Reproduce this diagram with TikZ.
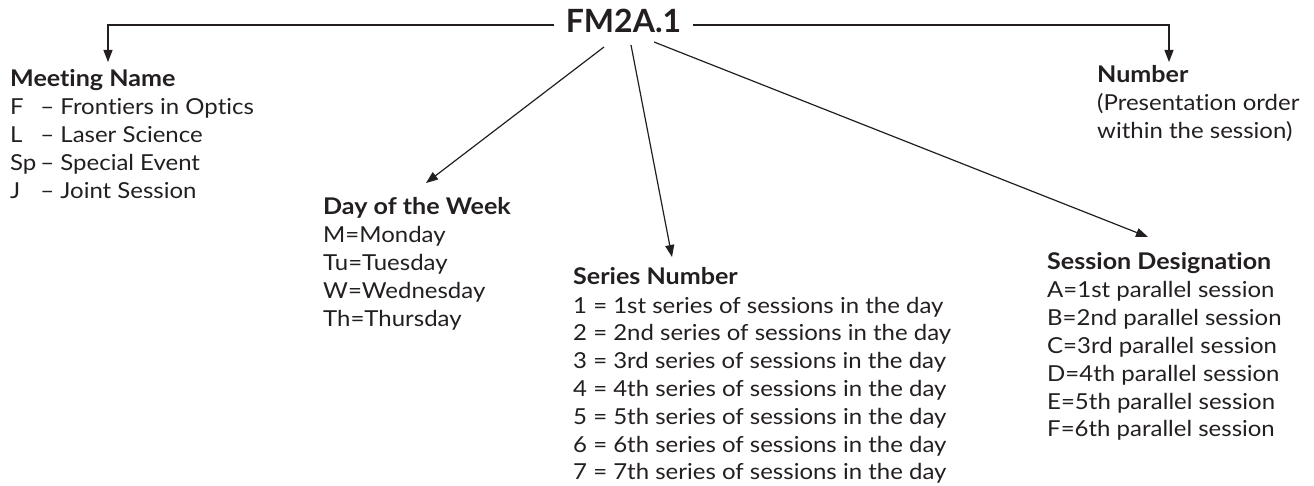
\documentclass[tikz,border=0pt]{standalone}
\usepackage{fontspec}
\setmainfont{Lato}[FakeStretch=1.09,Ligatures=NoCommon]
\newfontfamily\fmfont{Lato}
\usetikzlibrary{arrows.meta,calc}
\definecolor{ink}{HTML}{231F20}
\newcommand{\blk}[1]{\begin{tabular}[t]{@{}l@{}}#1\end{tabular}}
\begin{document}
\begin{tikzpicture}[x=1pt,y=-1pt,
  every node/.style={inner sep=0pt,text=ink},
  hd/.style={anchor=base west,font=\fontsize{23}{28}\selectfont\bfseries},
  bd/.style={anchor=base west,font=\fontsize{22}{27.8}\selectfont},
  arr/.style={draw=ink,line width=1.2pt,-{Triangle[length=12pt,width=9pt]}},
  ln/.style={draw=ink,line width=1.2pt}]
\useasboundingbox (0,0) rectangle (1314,486);
\node[anchor=base,font=\fmfont\fontsize{32}{32}\selectfont\bfseries,inner xsep=12pt] (fm) at (623.5,33) {FM2A.1};
% headers
\node[hd] (meet) at (10,87) {Meeting Name};
\node[bd] (meetb) at (10,115) {\begin{tabular}[t]{@{}l@{\hspace{4pt}}l@{}}F&– Frontiers in Optics\\L&– Laser Science\\Sp&– Special Event\\J&– Joint Session\end{tabular}};
\node[hd] (day) at (323,215) {Day of the Week};
\node[bd] (dayb) at (323,243) {\blk{M=Monday\\Tu=Tuesday\\W=Wednesday\\Th=Thursday}};
\node[hd] (ser) at (573,285) {Series Number};
\node[bd] (serb) at (573,313) {\blk{1 = 1st series of sessions in the day\\2 = 2nd series of sessions in the day\\3 = 3rd series of sessions in the day\\4 = 4th series of sessions in the day\\5 = 5th series of sessions in the day\\6 = 6th series of sessions in the day\\7 = 7th series of sessions in the day}};
\node[hd] (ses) at (1047,270) {Session Designation};
\node[bd] (sesb) at (1047,298) {\blk{A=1st parallel session\\B=2nd parallel session\\C=3rd parallel session\\D=4th parallel session\\E=5th parallel session\\F=6th parallel session}};
\node[hd] (num) at (1097,83) {Number};
\node[bd] (numb) at (1097,111) {\blk{(Presentation order\\within the session)}};
% connector endpoints
\coordinate (top) at (0,25);
\coordinate (meettip) at (108,62);
\coordinate (numtip) at (1169,62);
\coordinate (d0) at (604,47);
\coordinate (s0) at (631,45);
\coordinate (g0) at (654,42);
\coordinate (daytip) at (426,183);
\coordinate (sertip) at (672,257);
\coordinate (sestip) at (1148,237);
\draw[arr] (fm.west |- top) -| (meettip);
\draw[arr] (fm.east |- top) -| (numtip);
\draw[arr] (d0) -- (daytip);
\draw[arr] (s0) -- (sertip);
\draw[arr] (g0) -- (sestip);
\end{tikzpicture}
\end{document}
